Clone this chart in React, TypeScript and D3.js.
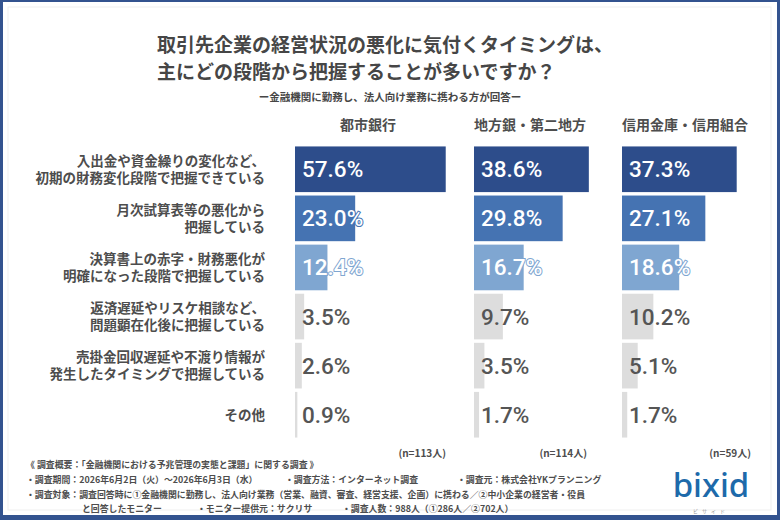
import React from 'react';
import * as d3 from 'd3';

// survey categories (two display lines each)
const categories = [
  ['入出金や資金繰りの変化など、', '初期の財務変化段階で把握できている'],
  ['月次試算表等の悪化から', '把握している'],
  ['決算書上の赤字・財務悪化が', '明確になった段階で把握している'],
  ['返済遅延やリスケ相談など、', '問題顕在化後に把握している'],
  ['売掛金回収遅延や不渡り情報が', '発生したタイミングで把握している'],
  ['その他'],
];

const groups = ['都市銀行', '地方銀・第二地方', '信用金庫・信用組合'];
const sampleSizes = ['(n=113人)', '(n=114人)', '(n=59人)'];

const cityBanks = [57.6, 23.0, 12.4, 3.5, 2.6, 0.9];
const regionalBanks = [38.6, 29.8, 16.7, 9.7, 3.5, 1.7];
const shinkinBanks = [37.3, 27.1, 18.6, 10.2, 5.1, 1.7];

const series = [cityBanks, regionalBanks, shinkinBanks];

const footerLines = [
  ['《 調査概要：「金融機関における予兆管理の実態と課題」に関する調査 》'],
  ['・調査期間：2026年6月2日（火）～2026年6月3日（水）', '・調査方法：インターネット調査', '・調査元：株式会社YKプランニング'],
  ['・調査対象：調査回答時に①金融機関に勤務し、法人向け業務（営業、融資、審査、経営支援、企画）に携わる／②中小企業の経営者・役員'],
  ['と回答したモニター', '・モニター提供元：サクリサ', '・調査人数：988人（①286人／②702人）'],
];

const W = 780;
const H = 520;
const JP = '"Noto Sans CJK JP", "Noto Sans", sans-serif';
const NUM = 'Roboto, "Noto Sans", sans-serif';
const TEXT = '#4d4d4d';

// per-column layout: left edge, domain max and pixel width of the scale
const columns = [
  { x: 295, max: 60, width: 157, right: 446, center: 368 },
  { x: 474, max: 40, width: 119, right: 587, center: 530 },
  { x: 622, max: 40, width: 123, right: 751, center: 685 },
];

const rowColors = ['#2d4d8b', '#4573b2', '#7fa6d1', '#dddddd', '#dddddd', '#dddddd'];
const rowText = ['#ffffff', '#ffffff', '#ffffff', '#555555', '#555555', '#555555'];

const footerX = [
  [26],
  [26, 285, 457],
  [26],
  [82, 197, 342],
];
const footerY = [468, 483, 498, 512];

export default function App() {
  const y = d3
    .scaleBand<number>()
    .domain(d3.range(categories.length))
    .range([143, 441])
    .padding(0.07);

  return (
    <div style={{ position: 'fixed', left: 0, top: 0 }}>
      <svg width={W} height={H} style={{ display: 'block' }}>
        {/* frame */}
        <rect x={0} y={0} width={W} height={H} fill="#33538f" />
        <rect x={3} y={2} width={W - 6} height={H - 7} fill="#ffffff" />
        <rect x={8} y={7} width={W - 17} height={H - 17} fill="none" stroke="#efefef" />

        {/* title */}
        <g fontFamily={JP} fontWeight={700} fill="#464646">
          <text x={157} y={52} fontSize={19}>
            取引先企業の経営状況の悪化に気付くタイミングは、
          </text>
          <text x={157} y={79} fontSize={19}>
            主にどの段階から把握することが多いですか？
          </text>
          <text x={390} y={101} fontSize={10.5} textAnchor="middle">
            ー金融機関に勤務し、法人向け業務に携わる方が回答ー
          </text>
        </g>

        {/* row labels */}
        <g fontFamily={JP} fontWeight={700} fontSize={13.5} fill={TEXT} textAnchor="end">
          {categories.map((lines, i) => {
            const cy = (y(i) ?? 0) + y.bandwidth() / 2;
            const start = cy - ((lines.length - 1) * 17) / 2;
            return lines.map((line, j) => (
              <text key={`${i}-${j}`} x={265} y={start + j * 17 + 5}>
                {line}
              </text>
            ));
          })}
        </g>

        {/* columns */}
        {series.map((values, c) => {
          const col = columns[c];
          const x = d3.scaleLinear().domain([0, col.max]).range([0, col.width]);
          return (
            <g key={c}>
              <text
                x={col.center}
                y={130}
                textAnchor="middle"
                fontFamily={JP}
                fontWeight={700}
                fontSize={14}
                fill={TEXT}
              >
                {groups[c]}
              </text>
              {values.map((v, i) => (
                <rect
                  key={i}
                  x={col.x}
                  y={y(i)}
                  width={x(v)}
                  height={y.bandwidth()}
                  fill={rowColors[i]}
                />
              ))}
              {values.map((v, i) => (
                <text
                  key={`t${i}`}
                  x={col.x + 7}
                  y={(y(i) ?? 0) + y.bandwidth() / 2 + 8}
                  fontFamily={NUM}
                  fontWeight={500}
                  fontSize={22.5}
                  fill={rowText[i]}
                  stroke={i < 3 ? rowColors[i] : 'none'}
                  strokeWidth={i < 3 ? 2 : 0}
                  paintOrder="stroke"
                >
                  {v.toFixed(1)}%
                </text>
              ))}
              <text
                x={col.right}
                y={457}
                textAnchor="end"
                fontFamily={JP}
                fontWeight={700}
                fontSize={10}
                fill={TEXT}
              >
                {sampleSizes[c]}
              </text>
            </g>
          );
        })}

        {/* survey notes */}
        <g fontFamily={JP} fontWeight={700} fontSize={8.9} fill={TEXT}>
          {footerLines.map((parts, r) =>
            parts.map((p, k) => (
              <text key={`${r}-${k}`} x={footerX[r][k]} y={footerY[r]}>
                {p}
              </text>
            ))
          )}
        </g>

        {/* logo */}
        <g>
          <text
            x={711}
            y={497}
            textAnchor="middle"
            fontFamily={'"Noto Sans", sans-serif'}
            fontWeight={500}
            fontSize={33}
            fill="#1d6aaa"
          >
            bixid
          </text>
          <text
            x={711}
            y={513}
            textAnchor="middle"
            fontFamily={JP}
            fontSize={5}
            letterSpacing={4}
            fill="#999999"
          >
            ビサイド
          </text>
        </g>
      </svg>
    </div>
  );
}
